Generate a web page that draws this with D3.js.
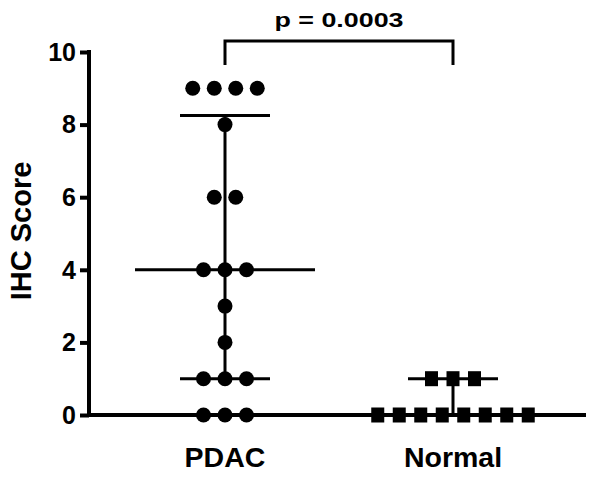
<!DOCTYPE html>
<html><head><meta charset="utf-8">
<script src="https://cdn.jsdelivr.net/npm/d3@7"></script>
<style>body{margin:0;background:#fff}svg{display:block}text{font-family:"Liberation Sans",Arial,sans-serif;font-weight:bold;fill:#000}</style>
</head><body><svg id="c" width="600" height="478"></svg>
<script>
const categories = ["PDAC", "Normal"];
const pdacScores = [9,9,9,9,8,6,6,4,4,4,3,2,1,1,1,0,0,0];
const normalScores = [1,1,1,0,0,0,0,0,0,0,0];
const yTicks = [0,2,4,6,8,10];
const pLabel = "p = 0.0003";
const yTitle = "IHC Score";

const svg = d3.select("#c");
const y = d3.scaleLinear().domain([0,10]).range([415,52]);
const x = d3.scaleBand().domain(categories).range([111,567]).padding(0);

function quant(arr,p){ // GraphPad-style percentile
  const s=[...arr].sort((a,b)=>a-b), n=s.length;
  const r=p*(n+1); const lo=Math.floor(r);
  if(lo<1) return s[0]; if(lo>=n) return s[n-1];
  return s[lo-1]+(r-lo)*(s[lo]-s[lo-1]);
}

// axes
const yAxis = d3.axisLeft(y).tickValues(yTicks).tickSize(9).tickPadding(4).tickFormat(d3.format("d"));
const gy = svg.append("g").attr("transform","translate(89,0)").call(yAxis);
gy.select(".domain").attr("stroke","#000").attr("stroke-width",4).attr("d","M0,417V50");
gy.selectAll(".tick line").attr("stroke","#000").attr("stroke-width",4);
gy.selectAll(".tick text").style("font-size","25px").attr("dy","0.33em");

svg.append("line").attr("x1",87).attr("x2",586).attr("y1",415).attr("y2",415).attr("stroke","#000").attr("stroke-width",4);

svg.append("text").attr("transform","translate(31,231) rotate(-90)").attr("text-anchor","middle").style("font-size","29px").text(yTitle);

categories.forEach(c=>{
  svg.append("text").attr("x",x(c)+x.bandwidth()/2).attr("y",467).attr("text-anchor","middle").style("font-size","28.5px").text(c);
});

const sp = 21.5;
function layout(arr){
  const groups = d3.group(arr, d=>d);
  const out=[];
  for(const [v,list] of groups){ list.forEach((d,i)=>out.push({v, off:(i-(list.length-1)/2)*sp})); }
  return out;
}
const series = [{cat:"PDAC",data:pdacScores,shape:"circle"},{cat:"Normal",data:normalScores,shape:"square"}];
series.forEach(s=>{
  const cx = x(s.cat)+x.bandwidth()/2;
  const med = d3.median(s.data), q1 = quant(s.data,0.25), q3 = quant(s.data,0.75);
  const g = svg.append("g");
  g.append("line").attr("x1",cx).attr("x2",cx).attr("y1",y(q3)).attr("y2",y(q1)).attr("stroke","#000").attr("stroke-width",3);
  g.append("line").attr("x1",cx-90).attr("x2",cx+90).attr("y1",y(med)).attr("y2",y(med)).attr("stroke","#000").attr("stroke-width",3);
  [q1,q3].forEach(q=>g.append("line").attr("x1",cx-45).attr("x2",cx+45).attr("y1",y(q)).attr("y2",y(q)).attr("stroke","#000").attr("stroke-width",3));
  const pts = layout(s.data);
  if(s.shape==="circle"){
    g.selectAll("circle").data(pts).join("circle").attr("cx",d=>cx+d.off).attr("cy",d=>y(d.v)).attr("r",7.5).attr("fill","#000");
  } else {
    g.selectAll("rect").data(pts).join("rect").attr("x",d=>cx+d.off-6.5).attr("y",d=>y(d.v)-7.5).attr("width",13).attr("height",15).attr("fill","#000");
  }
});

// significance bracket
const x1 = x("PDAC")+x.bandwidth()/2, x2 = x("Normal")+x.bandwidth()/2;
svg.append("path").attr("d",`M${x1},65V41H${x2}V65`).attr("fill","none").attr("stroke","#000").attr("stroke-width",3);
svg.append("text").attr("x",(x1+x2)/2).attr("y",27).attr("text-anchor","middle").style("font-size","21px")
  .attr("textLength",129).attr("lengthAdjust","spacingAndGlyphs").text(pLabel);
</script></body></html>
